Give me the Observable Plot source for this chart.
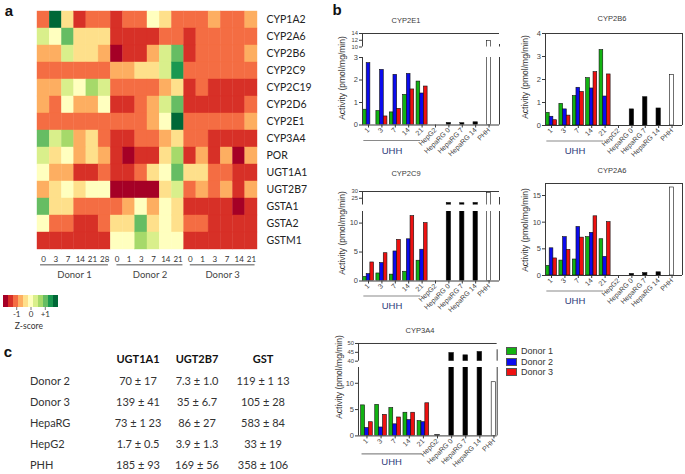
<!DOCTYPE html>
<html><head><meta charset="utf-8">
<script src="https://cdn.jsdelivr.net/npm/d3@7"></script>
<script src="https://cdn.jsdelivr.net/npm/@observablehq/plot@0.6"></script>
<style>
body{margin:0;background:#fff;}
#root{position:relative;width:685px;height:474px;overflow:hidden;font-family:"Liberation Sans",Arial,sans-serif;background:#fff;}
.abs{position:absolute;white-space:nowrap;}
svg{overflow:visible;}
</style></head><body><div id="root"></div>
<script>
// ---------------- DATA ----------------
// Panel a: heatmap (z-scores), columns = days per donor
const genes = ["CYP1A2","CYP2A6","CYP2B6","CYP2C9","CYP2C19","CYP2D6","CYP2E1","CYP3A4","POR","UGT1A1","UGT2B7","GSTA1","GSTA2","GSTM1"];
const heatDays = ["0","3","7","14","21","28","0","1","3","7","14","21","0","1","3","7","14","21"];
const heatDonors = ["Donor 1","Donor 2","Donor 3"];
const z_CYP1A2 = [-1.05,1.75,-0.35,-1.4,-1.05,-1.05,-1.4,-1.05,-1.05,0,-0.35,-1.05,-1.05,-1.05,-0.7,-1.05,-1.05,-0.7];
const z_CYP2A6 = [0.35,0,1.05,-0.35,-0.35,-0.35,-1.4,-1.4,-1.4,-1.4,-1.05,-1.05,-1.4,-1.05,-1.05,-1.05,-1.05,-1.05];
const z_CYP2B6 = [-0.7,-0.7,0.35,-0.35,-0.35,-0.7,-1.75,-1.4,-1.4,-0.7,0.35,1.05,-1.4,-1.05,-1.05,-1.05,-1.05,-0.7];
const z_CYP2C9 = [-1.05,-1.05,-1.05,-1.05,-1.05,-1.05,-0.7,-0.7,-0.35,-0.35,0.35,1.4,-1.05,-1.05,-1.05,-1.05,-1.05,-1.05];
const z_CYP2C19 = [-0.7,-0.7,0.35,0,0.7,0.35,-1.05,-1.05,-1.05,-1.05,-0.7,-0.35,-1.4,-1.05,-1.4,-1.4,-1.4,-1.4];
const z_CYP2D6 = [-0.7,-1.05,0,-0.7,-0.7,0,-1.4,-1.4,-1.05,-0.7,0.35,1.05,-1.4,-1.4,-1.4,-1.4,-1.4,-1.05];
const z_CYP2E1 = [-1.05,-1.05,-1.05,-1.05,-1.05,-1.05,-1.05,-1.05,-1.05,-0.7,0,1.75,-1.05,-1.05,-1.05,-1.05,-1.05,-0.7];
const z_CYP3A4 = [1.05,0.35,0.7,-0.7,-0.35,-1.05,-1.4,-1.4,-1.05,-1.05,-0.7,-0.35,-1.05,-1.05,-1.4,-1.4,-1.4,-1.4];
const z_POR = [0.35,-0.35,0,-0.7,-0.35,-0.7,-1.4,-1.75,-1.4,-1.4,-0.35,0.7,-1.4,-0.7,-1.4,-0.7,-1.75,-0.7];
const z_UGT1A1 = [0,-0.7,-0.7,-1.4,-1.4,-1.05,-1.4,-1.4,-1.05,-0.35,0,1.05,-0.35,-0.35,-1.05,-1.05,-1.4,-1.4];
const z_UGT2B7 = [-0.7,-0.35,0,-0.35,0,0,-1.75,-1.75,-1.75,-1.75,-0.35,0.35,-1.05,-0.7,-1.05,-0.7,-1.4,-0.7];
const z_GSTA1 = [1.05,-0.35,-0.35,-1.05,-1.05,-1.05,-1.05,-0.7,0,-0.7,0,-0.35,-1.4,-1.4,-1.4,-1.4,-1.75,-1.4];
const z_GSTA2 = [0,-1.05,-1.05,-1.4,-1.4,-1.05,-0.35,-0.35,1.05,-0.35,0,-0.35,-1.05,-1.05,-1.4,-1.4,-1.4,-1.4];
const z_GSTM1 = [-1.4,-1.4,-1.4,-1.4,-1.4,-1.4,0,0,0.7,0.35,0,0,-1.4,-1.4,-1.4,-1.4,-1.4,-1.4];
const zLegendTicks = [-1, 0, 1];

// Panel b: activities (pmol/mg/min)
const cats = ["1","3","7","14","21","HepG2","HepaRG 0","HepaRG 7","HepaRG 14","PHH"];
const donors = ["Donor 1","Donor 2","Donor 3"];
const refKinds = ["HepG2","HepaRG","HepaRG","HepaRG","PHH"];
// UHH days 1,3,7,14,21 per donor; ref = HepG2, HepaRG 0, 7, 14, PHH
const e1_d1 = [0.68,0.62,0.56,1.34,1.93], e1_d2 = [2.75,2.45,2.23,2.27,1.40], e1_d3 = [0,0.38,0.72,1.58,1.71], e1_ref = [0,0.09,0.08,0.12,11.8];
const b6_d1 = [0.55,0.94,1.28,2.06,3.28], b6_d2 = [0.38,0.70,1.64,1.61,1.26], b6_d3 = [0.23,0.43,1.46,2.32,2.22], b6_ref = [0,0.70,1.23,0.74,2.2];
const c9_d1 = [0.7,1.3,1.1,1.6,3.5], c9_d2 = [1.2,3.1,5.1,7.2,5.4], c9_d3 = [3.2,4.8,7.1,11.2,10.0], c9_ref = [0,21.5,21.3,21.5,29];
const a6_d1 = [1.8,2.8,3.0,7.2,6.8], a6_d2 = [5.1,7.2,9.1,8.0,3.5], a6_d3 = [3.2,4.8,7.1,11.1,10.0], a6_ref = [0,0.3,0.45,0.6,16.5];
const a4_d1 = [5.8,5.9,5.3,4.4,2.8], a4_d2 = [1.5,1.6,2.2,3.0,2.6], a4_d3 = [2.6,4.0,3.5,4.4,6.2], a4_ref = [0.15,44.6,43.3,45.2,10.2];

// Panel c: table
const tableCols = ["UGT1A1","UGT2B7","GST"];
const tableRows = ["Donor 2","Donor 3","HepaRG","HepG2","PHH"];
const tUGT1A1 = ["70 ± 17","139 ± 41","73 ± 1 23","1.7 ± 0.5","185 ± 93"];
const tUGT2B7 = ["7.3 ± 1.0","35 ± 6.7","86 ± 27","3.9 ± 1.3","169 ± 56"];
const tGST = ["119 ± 1 13","105 ± 28","583 ± 84","33 ± 19","358 ± 106"];

// ---------------- STYLE ----------------
const zColors = ["#a50026","#d73027","#f46d43","#fdae61","#fee08b","#ffffbf","#d9ef8b","#a6d96a","#66bd63","#1a9850","#006837"];
const zThresholds = [-1.575,-1.225,-0.875,-0.525,-0.175,0.175,0.525,0.875,1.225,1.575];
const kinds = ["Donor 1","Donor 2","Donor 3","HepG2","HepaRG","PHH"];
const kindColors = ["#12b312","#0b0bee","#ee1111","#000","#000","#fff"];
const AX = "#3a3a3a", TX = "#444";
const root = document.getElementById("root");
const baseStyle = {background: "transparent", overflow: "visible", maxWidth: "none"};

function put(node, left, top) {
  const d = document.createElement("div");
  d.className = "abs"; d.style.left = left + "px"; d.style.top = top + "px";
  d.appendChild(node); root.appendChild(d); return d;
}
function txt(text, x, y, css) {
  const d = document.createElement("div");
  d.className = "abs"; d.textContent = text;
  Object.assign(d.style, {left: x + "px", top: y + "px", transform: "translate(-50%,-50%)"}, css || {});
  root.appendChild(d); return d;
}

// ---------------- PANEL A ----------------
const zRows = [z_CYP1A2,z_CYP2A6,z_CYP2B6,z_CYP2C9,z_CYP2C19,z_CYP2D6,z_CYP2E1,z_CYP3A4,z_POR,z_UGT1A1,z_UGT2B7,z_GSTA1,z_GSTA2,z_GSTM1];
const hmData = [];
genes.forEach((g, r) => zRows[r].forEach((z, c) => hmData.push({gene: g, col: c, z})));
const groupSpan = [[0.25,5.8],[6.5,11.9],[12.5,17.8]];
const groups = heatDonors.map((name, k) => ({name, a: groupSpan[k][0], b: groupSpan[k][1]}));

const heat = Plot.plot({
  width: 330, height: 292, marginLeft: 37, marginRight: 73, marginTop: 6, marginBottom: 39,
  style: {...baseStyle, fontFamily: "Lato, 'Open Sans', sans-serif"},
  x: {domain: [0, 18], axis: null},
  y: {domain: genes, padding: 0, axis: null},
  color: {type: "threshold", domain: zThresholds, range: zColors},
  marks: [
    Plot.barX(hmData, {x1: "col", x2: d => d.col + 1, y: "gene", fill: "z", stroke: "z", strokeWidth: 0.4}),
    Plot.axisY({anchor: "right", tickSize: 0, tickPadding: 9, fontSize: 10.5, fill: "#222", label: null}),
    Plot.axisX({ticks: d3.range(18).map(i => i + 0.5), tickFormat: d => heatDays[Math.floor(d)], tickSize: 0, tickPadding: 3, fontSize: 8, fill: "#333", label: null}),
    Plot.ruleY(groups, {y: () => "GSTM1", x1: "a", x2: "b", dy: 23.8, stroke: "#8c8c8c", strokeWidth: 1.5}),
    Plot.text(groups, {x: d => (d.a + d.b) / 2, y: () => "GSTM1", text: "name", dy: 34, fontSize: 9.5, fill: "#444"})
  ]
});
put(heat, 0, 0);

const swatches = zColors.map((c, k) => ({lo: -1.925 + k * 0.35, hi: -1.925 + (k + 1) * 0.35}));
const zleg = Plot.plot({
  width: 70, height: 40, marginLeft: 3, marginRight: 12, marginTop: 5, marginBottom: 23,
  style: {...baseStyle, fontFamily: "Lato, 'Open Sans', sans-serif"},
  x: {domain: [-1.925, 1.925], axis: null},
  y: {domain: [0, 1], axis: null},
  color: {type: "threshold", domain: zThresholds, range: zColors},
  marks: [
    Plot.rect(swatches, {x1: "lo", x2: "hi", y1: () => 0, y2: () => 1, fill: d => (d.lo + d.hi) / 2}),
    Plot.axisX({ticks: zLegendTicks, tickFormat: d => d > 0 ? "+" + d : String(d), tickSize: 3, tickPadding: 1, fontSize: 8, fill: "#333", stroke: "#777", label: null}),
    Plot.text(["Z-score"], {x: () => -0.15, frameAnchor: "bottom", text: d => d, dy: 21, fontSize: 8.5, fill: "#333"})
  ]
});
put(zleg, 0, 290);

// ---------------- PANEL B ----------------
function barPanel(c) {
  const rows = [];
  [c.d1, c.d2, c.d3].forEach((arr, k) => arr.forEach((v, i) => rows.push({i, off: k - 1, v, kind: donors[k], w: 0.275})));
  c.ref.forEach((v, j) => rows.push({i: 5 + j, off: 0, v, kind: refKinds[j], w: 0.32}));
  const bars = rows.filter(d => d.v > 0);
  c.segs.forEach((s, si) => {
    const isTop = si === 0, isBottom = si === c.segs.length - 1;
    const ml = 24, mr = 8, mt = isTop ? 4 : 0, mb = isBottom ? 50 : 0;
    const segH = s.bottom - s.top;
    const gap = isBottom ? 0 : c.segs[si + 1].top - s.bottom;
    const tickFont = (!isBottom) ? 5.8 : 7.5;
    const marks = [
      Plot.rect(bars, {x1: d => d.i + d.off * d.w - d.w / 2, x2: d => d.i + d.off * d.w + d.w / 2, y1: () => 0, y2: "v", fill: "kind", stroke: "#111", strokeWidth: 0.6, clip: true}),
      Plot.ruleX([c.xDomain[0]], {y1: () => s.domain[0], y2: () => s.domain[1], stroke: AX}),
      Plot.ruleX([c.xDomain[1]], {y1: () => s.domain[0], y2: () => s.domain[1], stroke: AX, insetBottom: -gap}),
      Plot.axisY({ticks: s.ticks, tickFormat: d => String(d), tickSize: 3, tickPadding: 1.5, fontSize: tickFont, stroke: AX, fill: TX, label: null})
    ];
    if (isTop) marks.push(Plot.ruleY([s.domain[1]], {stroke: AX}));
    if (isBottom) marks.push(
      Plot.ruleY([s.domain[0]], {stroke: AX}),
      Plot.axisX({ticks: d3.range(10), tickFormat: i => cats[i], tickRotate: -45, tickSize: 3, tickPadding: 1, fontSize: 7, stroke: AX, fill: TX, label: null}),
      Plot.ruleY([s.domain[0]], {x1: () => -0.35, x2: () => 3.9, dy: c.uhhLine, stroke: "#8a8a8a", strokeWidth: 1.2}),
      Plot.text(["UHH"], {x: () => 1.75, y: () => s.domain[0], text: d => d, dy: c.uhhText, fontSize: 9.5, fill: "#2b3a7a"})
    );
    const p = Plot.plot({
      width: ml + c.frameW + mr, height: mt + segH + mb,
      marginLeft: ml, marginRight: mr, marginTop: mt, marginBottom: mb,
      style: {...baseStyle, fontFamily: "'Liberation Sans', Arial, sans-serif"},
      x: {domain: c.xDomain, axis: null},
      y: {domain: s.domain, axis: null},
      color: {domain: kinds, range: kindColors},
      marks
    });
    put(p, c.left - ml, s.top - mt);
  });
  txt(c.title, c.titleX, c.titleY, {fontSize: "7.5px", color: "#3a3a3a"});
  txt("Activity (pmol/mg/min)", c.labelX, c.labelY, {fontSize: "8.5px", color: "#333", transform: "translate(-50%,-50%) rotate(-90deg)"});
}

const xd = [-0.45, 9.78];
barPanel({title: "CYP2E1", titleX: 406, titleY: 20, labelX: 342, labelY: 78, left: 362, xDomain: xd, frameW: 137,
  d1: e1_d1, d2: e1_d2, d3: e1_d3, ref: e1_ref, uhhLine: 15.5, uhhText: 25.5,
  segs: [{domain: [10, 14], top: 32.5, bottom: 46, ticks: [10, 12, 14]}, {domain: [0, 3], top: 57, bottom: 124.5, ticks: [0, 1, 2, 3]}]});
barPanel({title: "CYP2B6", titleX: 612, titleY: 18, labelX: 525, labelY: 77, left: 545, xDomain: xd, frameW: 137,
  d1: b6_d1, d2: b6_d2, d3: b6_d3, ref: b6_ref, uhhLine: 15.5, uhhText: 25.5,
  segs: [{domain: [0, 4], top: 32.5, bottom: 124.5, ticks: [0, 1, 2, 3, 4]}]});
barPanel({title: "CYP2C9", titleX: 406, titleY: 173, labelX: 342, labelY: 233, left: 362, xDomain: xd, frameW: 137,
  d1: c9_d1, d2: c9_d2, d3: c9_d3, ref: c9_ref, uhhLine: 15, uhhText: 25,
  segs: [{domain: [20, 30], top: 191, bottom: 204.5, ticks: [25, 30]}, {domain: [0, 12], top: 210.5, bottom: 280, ticks: [0, 5, 10]}]});
barPanel({title: "CYP2A6", titleX: 612, titleY: 170, labelX: 525, labelY: 230, left: 545, xDomain: xd, frameW: 137,
  d1: a6_d1, d2: a6_d2, d3: a6_d3, ref: a6_ref, uhhLine: 15.5, uhhText: 25.5,
  segs: [{domain: [0, 17.25], top: 183, bottom: 275, ticks: [0, 5, 10, 15]}]});
barPanel({title: "CYP3A4", titleX: 420, titleY: 330, labelX: 339, labelY: 377, left: 358.3, xDomain: [-0.6, 9.23], frameW: 138.7,
  d1: a4_d1, d2: a4_d2, d3: a4_d3, ref: a4_ref, uhhLine: 18, uhhText: 26,
  segs: [{domain: [40, 50], top: 343.3, bottom: 361, ticks: [40, 45, 50]}, {domain: [0, 13], top: 367.3, bottom: 435.7, ticks: [0, 5, 10]}]});

// donor legend
donors.forEach((name, k) => {
  const sw = document.createElement("div");
  sw.className = "abs";
  Object.assign(sw.style, {left: "506px", top: (347 + k * 10.5) + "px", width: "9px", height: "6px", border: "1px solid #555", background: kindColors[k]});
  root.appendChild(sw);
  txt(name, 521, 351 + k * 10.5, {fontSize: "9px", color: "#333", transform: "translate(0,-50%)"});
});

// ---------------- PANEL C ----------------
const colX = [138, 197, 263];
const rowY = [380, 401, 422, 443, 464];
const tableVals = [tUGT1A1, tUGT2B7, tGST];
const tfont = "Lato, 'Open Sans', sans-serif";
tableCols.forEach((h, j) => txt(h, colX[j], 358, {fontSize: "11px", fontWeight: "bold", color: "#111", fontFamily: tfont}));
tableRows.forEach((r, i) => {
  txt(r, 30, rowY[i], {fontSize: "11px", color: "#333", fontFamily: tfont, transform: "translate(0,-50%)"});
  tableVals.forEach((col, j) => txt(col[i], colX[j], rowY[i], {fontSize: "11px", color: "#333", fontFamily: tfont}));
});

// panel letters
txt("a", 9, 10, {fontSize: "15px", fontWeight: "bold", color: "#111"});
txt("b", 337, 9, {fontSize: "15px", fontWeight: "bold", color: "#111"});
txt("c", 8, 351, {fontSize: "15px", fontWeight: "bold", color: "#111"});
</script></body></html>
